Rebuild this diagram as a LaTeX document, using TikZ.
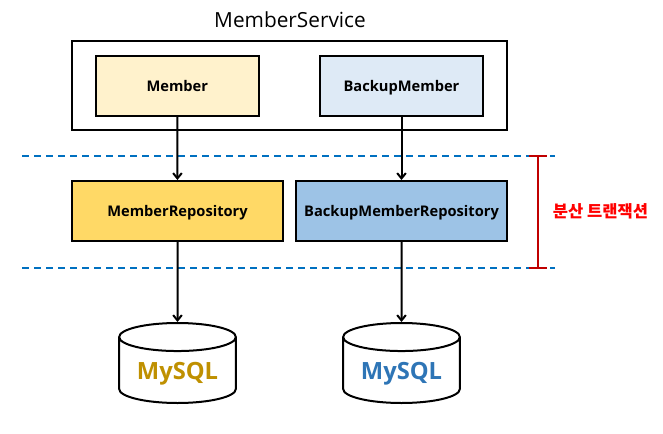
\documentclass[tikz,border=0pt]{standalone}
\usepackage{fontspec}
\setmainfont{Open Sans}
\newfontfamily\krfont{Noto Sans CJK KR}
\usepackage{tikz}
\usetikzlibrary{arrows.meta,positioning,shapes.geometric}
\definecolor{lightyellow}{HTML}{FFF2CC}
\definecolor{lightblue}{HTML}{DEEAF6}
\definecolor{strongyellow}{HTML}{FFD966}
\definecolor{strongblue}{HTML}{9DC3E6}
\definecolor{sqlyellow}{HTML}{BF9000}
\definecolor{sqlblue}{HTML}{2E75B6}
\definecolor{boundary}{HTML}{0070C0}
\definecolor{txred}{HTML}{C00000}
\tikzset{
  box/.style={draw=black, line width=1.5pt, inner sep=0pt, text height=11pt, text depth=2.6pt, font=\fontsize{11}{13}\selectfont\bfseries},
  service/.style={box, minimum width=122.5pt, minimum height=45pt},
  repo/.style={box, minimum width=158.3pt, minimum height=45pt},
  db/.style={draw=black, line width=1.5pt, cylinder, shape border rotate=90, aspect=0.345, inner sep=0pt,
    minimum width=87.5pt, minimum height=60pt, text height=17pt, text depth=4pt, font=\fontsize{17.8}{20}\selectfont\bfseries},
  link/.style={-{Straight Barb[length=4pt,width=6.5pt]}, line width=1.5pt},
  boundaryline/.style={boundary, line width=1.5pt, dash pattern=on 5.25pt off 3.75pt},
  span/.style={txred, line width=1.5pt}
}
\begin{document}
\begin{tikzpicture}[x=0.75pt,y=-0.75pt]
  \useasboundingbox (0,0) rectangle (663,433);
  \node[font=\fontsize{15.6}{18}\selectfont] (title) at (290,20) {MemberService};
  \node[draw=black, line width=1.5pt, minimum width=326.5pt, minimum height=67pt, inner sep=0pt] (outer) at (289.5,85.8) {};
  \node[service, fill=lightyellow] (member) at (177.3,86) {Member};
  \node[service, fill=lightblue] (backup) at (401.5,86) {BackupMember};
  \node[repo, fill=strongyellow] (memberrepo) at (177.5,211) {MemberRepository};
  \node[repo, fill=strongblue] (backuprepo) at (401.5,211) {BackupMemberRepository};
  \node[db, text=sqlyellow] (mysqla) at (177.5,370.5) {MySQL};
  \node[db, text=sqlblue] (mysqlb) at (401.5,370.5) {MySQL};
  % transaction boundary
  \coordinate (topl) at (22,156);
  \coordinate (topr) at (555,156);
  \coordinate (botl) at (22,268);
  \coordinate (botr) at (555,268);
  \draw[boundaryline] (topl)--(topr);
  \draw[boundaryline] (botl)--(botr);
  \coordinate (spantop) at (538,156);
  \coordinate (spanbot) at (538,268);
  \draw[span] (spantop)--(spanbot);
  \draw[span] ([xshift=-7pt]spantop)--([xshift=7pt]spantop);
  \draw[span] ([xshift=-7pt]spanbot)--([xshift=7pt]spanbot);
  \node[right=11pt of spantop|-memberrepo, inner sep=0pt, text=red, font=\fontsize{12.4}{14}\selectfont\bfseries\krfont] (txlabel) {분산 트랜잭션};
  % connectors
  \draw[link] (member)--(memberrepo);
  \draw[link] (backup)--(backuprepo);
  \draw[link] (memberrepo)--(mysqla.north);
  \draw[link] (backuprepo)--(mysqlb.north);
\end{tikzpicture}
\end{document}
